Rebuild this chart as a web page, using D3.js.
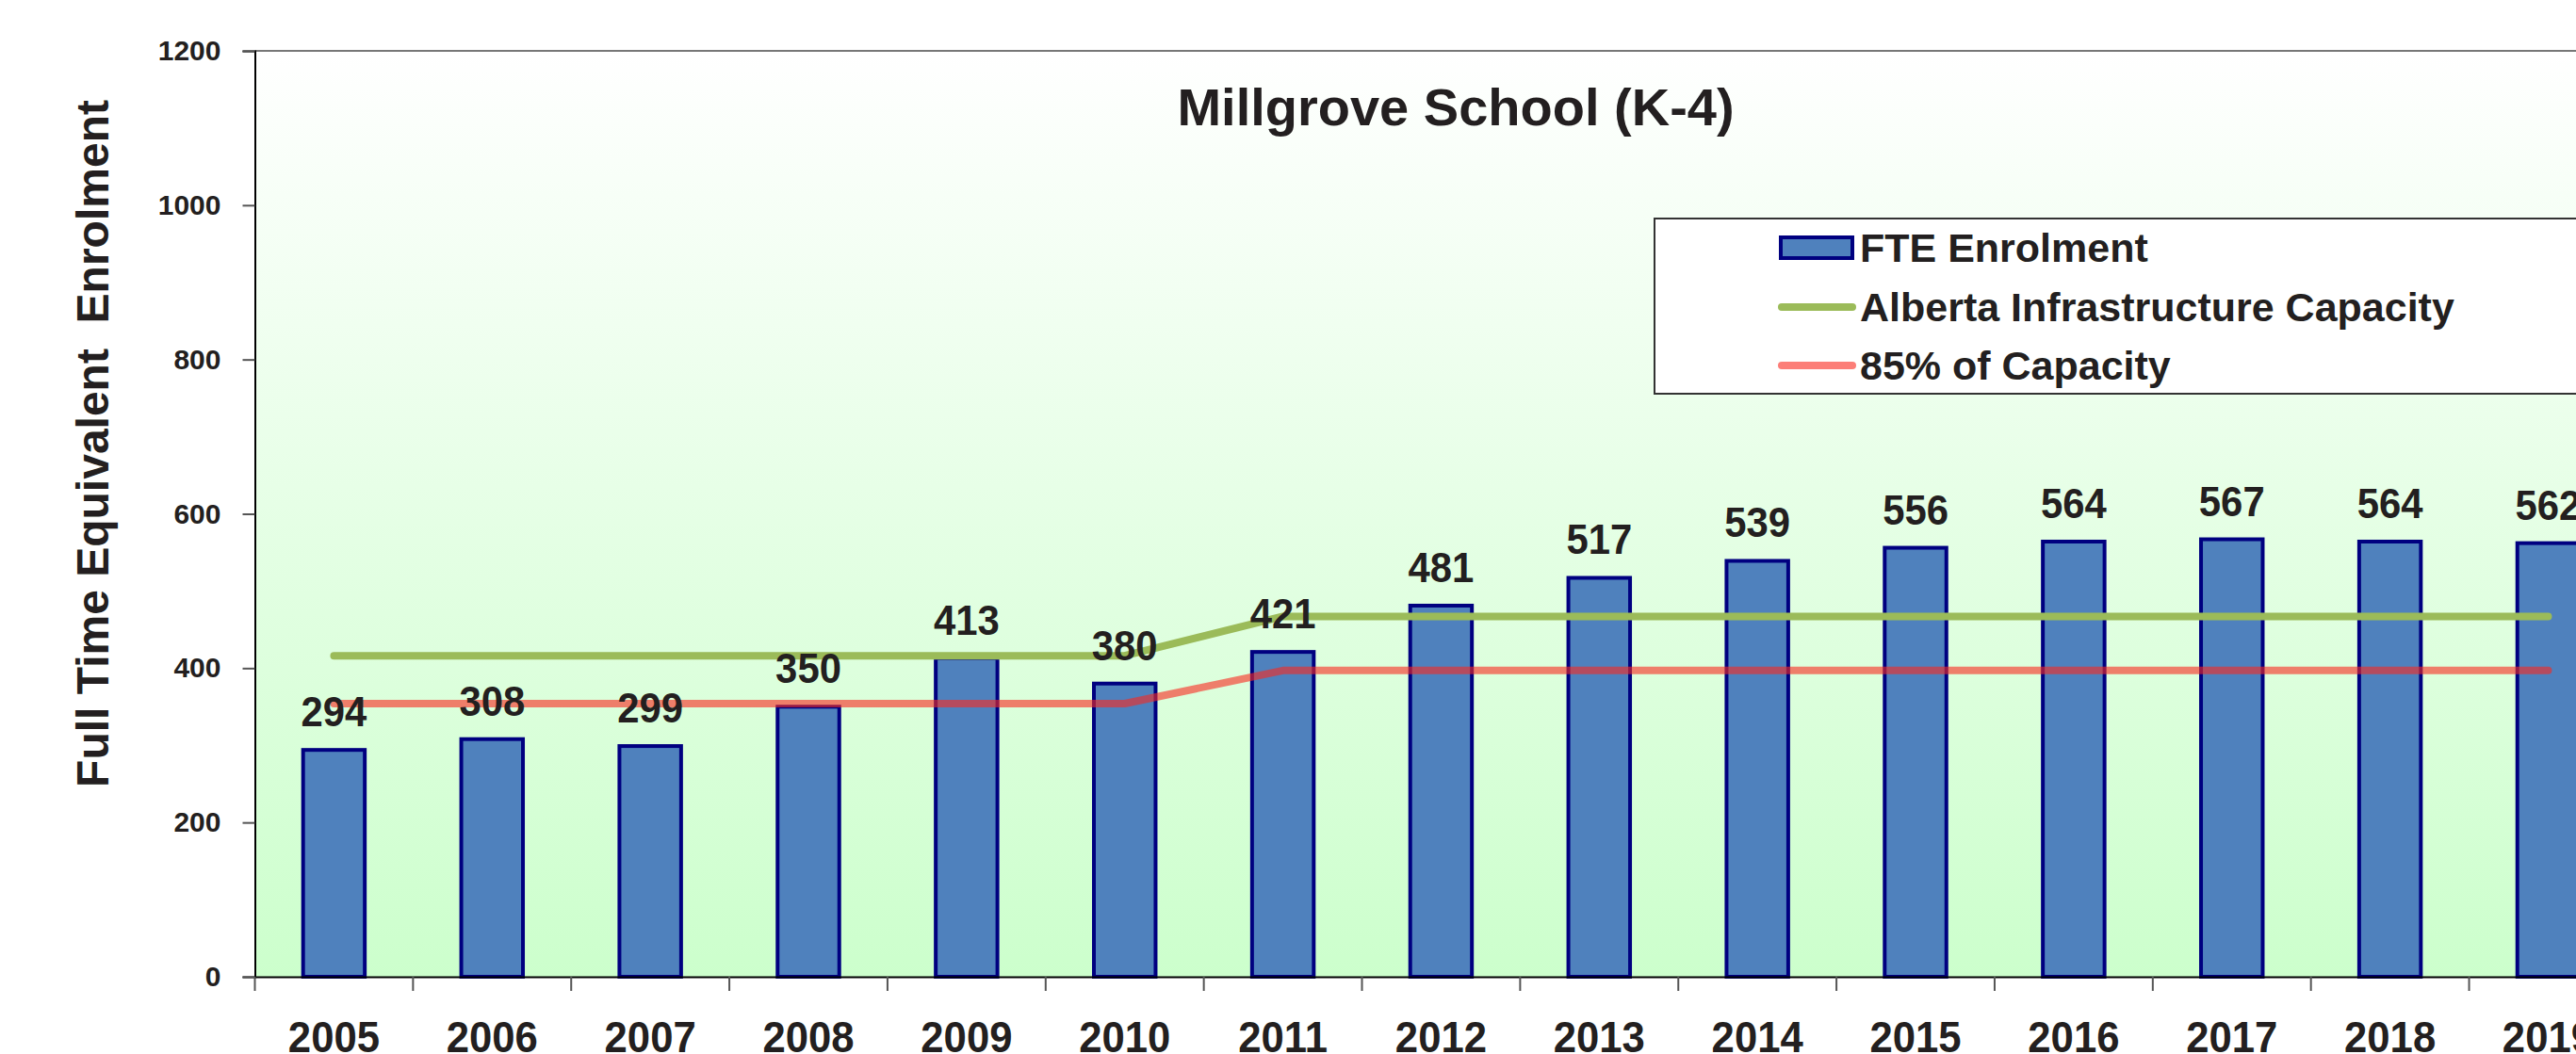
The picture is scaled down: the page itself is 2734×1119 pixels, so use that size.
<!DOCTYPE html>
<html>
<head>
<meta charset="utf-8">
<script src="https://cdn.jsdelivr.net/npm/d3@7"></script>
<style>
  body { margin: 0; background: #fff; }
  svg { display: block; font-family: "Liberation Sans", Arial, sans-serif; font-weight: bold; }
</style>
</head>
<body>
<div class="chart"></div>
<script>
// values
var years = ["2005","2006","2007","2008","2009","2010","2011","2012","2013","2014","2015","2016","2017","2018","2019"];
var enrolment = [294, 308, 299, 350, 413, 380, 421, 481, 517, 539, 556, 564, 567, 564, 562];
var capacity = [416, 416, 416, 416, 416, 416, 467, 467, 467, 467, 467, 467, 467, 467, 467];
var capacity85 = [354, 354, 354, 354, 354, 354, 397, 397, 397, 397, 397, 397, 397, 397, 397];
var yTicks = [0, 200, 400, 600, 800, 1000, 1200];
var legendItems = ["FTE Enrolment", "Alberta Infrastructure Capacity", "85% of Capacity"];

var W = 2734, H = 1119;
var plotLeft = 270.5, plotBottom = 1037, plotTop = 54;
var step = 167.86;

var svg = d3.select(".chart").append("svg")
  .attr("width", W)
  .attr("height", H);

var x = d3.scaleBand()
  .domain(years)
  .range([plotLeft, plotLeft + step * years.length])
  .padding(0);
var y = d3.scaleLinear()
  .domain([0, 1200])
  .range([plotBottom, plotTop]);

// plot background gradient
var grad = svg.append("defs").append("linearGradient")
  .attr("id", "bg")
  .attr("x1", 0).attr("y1", 0).attr("x2", 0).attr("y2", 1);
grad.append("stop").attr("offset", "0%").attr("stop-color", "#ffffff");
grad.append("stop").attr("offset", "100%").attr("stop-color", "#ccffcc");

svg.append("rect")
  .attr("x", x.range()[0])
  .attr("y", y(1200))
  .attr("width", x.range()[1] - x.range()[0])
  .attr("height", y(0) - y(1200))
  .attr("fill", "url(#bg)");

// top border
svg.append("line")
  .attr("x1", x.range()[0]).attr("x2", x.range()[1])
  .attr("y1", y(1200)).attr("y2", y(1200))
  .attr("stroke", "#777").attr("stroke-width", 2);

// bars
var bw = x.bandwidth() * 0.39;
svg.selectAll(".bar")
  .data(enrolment)
  .enter().append("rect")
  .attr("class", "bar")
  .attr("x", function(d, i) { return x(years[i]) + x.bandwidth() / 2 - bw / 2; })
  .attr("width", bw)
  .attr("y", function(d) { return y(d); })
  .attr("height", function(d) { return y(0) - y(d); })
  .attr("fill", "#4f81bd")
  .attr("stroke", "#000080")
  .attr("stroke-width", 4);

var line = d3.line()
  .x(function(d, i) { return x(years[i]) + x.bandwidth() / 2; })
  .y(function(d) { return y(d); });

svg.append("path")
  .datum(capacity85)
  .attr("d", line)
  .attr("fill", "none")
  .attr("stroke", "rgba(250,40,30,0.6)")
  .attr("stroke-width", 8)
  .attr("stroke-linecap", "round")
  .attr("stroke-linejoin", "round");

svg.append("path")
  .datum(capacity)
  .attr("d", line)
  .attr("fill", "none")
  .attr("stroke", "#9bbb59")
  .attr("stroke-width", 8)
  .attr("stroke-linecap", "round")
  .attr("stroke-linejoin", "round");

// value labels (font looks a bit squeezed in the original)
svg.selectAll(".lbl")
  .data(enrolment)
  .enter().append("text")
  .attr("class", "lbl")
  .attr("transform", function(d, i) {
    return "translate(" + (x(years[i]) + x.bandwidth() / 2) + "," + (y(d) - 25) + ") scale(0.93,1)";
  })
  .attr("text-anchor", "middle")
  .attr("font-size", 45)
  .attr("fill", "#231f20")
  .text(function(d) { return d; });

// y axis
var yAxis = svg.append("g")
  .attr("transform", "translate(" + plotLeft + ",0)")
  .call(d3.axisLeft(y).tickValues(yTicks).tickFormat(d3.format("d")).tickSize(13).tickPadding(23));
yAxis.select(".domain").attr("stroke", "#000").attr("stroke-width", 2);
yAxis.selectAll(".tick line").attr("stroke", "#555").attr("stroke-width", 2);
yAxis.selectAll(".tick text")
  .attr("font-size", 30)
  .attr("font-family", "Liberation Sans, Arial, sans-serif")
  .attr("font-weight", "bold")
  .attr("fill", "#231f20");

// x axis
var xAxis = svg.append("g")
  .attr("transform", "translate(0," + plotBottom + ")")
  .call(d3.axisBottom(x).tickSize(0).tickPadding(47));
xAxis.select(".domain").attr("stroke", "#000").attr("stroke-width", 2);
xAxis.selectAll(".tick text")
  .attr("font-size", 46)
  .attr("transform", "scale(0.95,1)")
  .attr("font-family", "Liberation Sans, Arial, sans-serif")
  .attr("font-weight", "bold")
  .attr("fill", "#231f20");

// ticks between the years
xAxis.selectAll(".sep")
  .data(years)
  .enter().append("line")
  .attr("class", "sep")
  .attr("x1", function(d) { return x(d); })
  .attr("x2", function(d) { return x(d); })
  .attr("y1", 0).attr("y2", 15)
  .attr("stroke", "#555").attr("stroke-width", 2);

// titles
svg.append("text")
  .attr("x", 1545)
  .attr("y", 133)
  .attr("text-anchor", "middle")
  .attr("font-size", 56)
  .attr("fill", "#231f20")
  .text("Millgrove School (K-4)");

svg.append("text")
  .attr("transform", "translate(115,471) rotate(-90)")
  .attr("text-anchor", "middle")
  .attr("font-size", 48)
  .attr("fill", "#231f20")
  .style("white-space", "pre")
  .text("Full Time Equivalent  Enrolment");

// legend
var lg = svg.append("g").attr("transform", "translate(1756,232)");
lg.append("rect")
  .attr("width", 1100).attr("height", 186)
  .attr("fill", "#fff")
  .attr("stroke", "#333").attr("stroke-width", 2);

var rowY = [31, 94, 156];
lg.append("rect")
  .attr("x", 134).attr("y", rowY[0] - 11)
  .attr("width", 76).attr("height", 22)
  .attr("fill", "#4f81bd").attr("stroke", "#000080").attr("stroke-width", 4);
lg.append("line")
  .attr("x1", 135).attr("x2", 210)
  .attr("y1", rowY[1]).attr("y2", rowY[1])
  .attr("stroke", "#9bbb59").attr("stroke-width", 8).attr("stroke-linecap", "round");
lg.append("line")
  .attr("x1", 135).attr("x2", 210)
  .attr("y1", rowY[2]).attr("y2", rowY[2])
  .attr("stroke", "rgba(250,40,30,0.6)").attr("stroke-width", 8).attr("stroke-linecap", "round");

lg.selectAll(".ltxt")
  .data(legendItems)
  .enter().append("text")
  .attr("class", "ltxt")
  .attr("x", 218)
  .attr("y", function(d, i) { return rowY[i] + 15; })
  .attr("font-size", 43)
  .attr("fill", "#231f20")
  .text(function(d) { return d; });
</script>
</body>
</html>
